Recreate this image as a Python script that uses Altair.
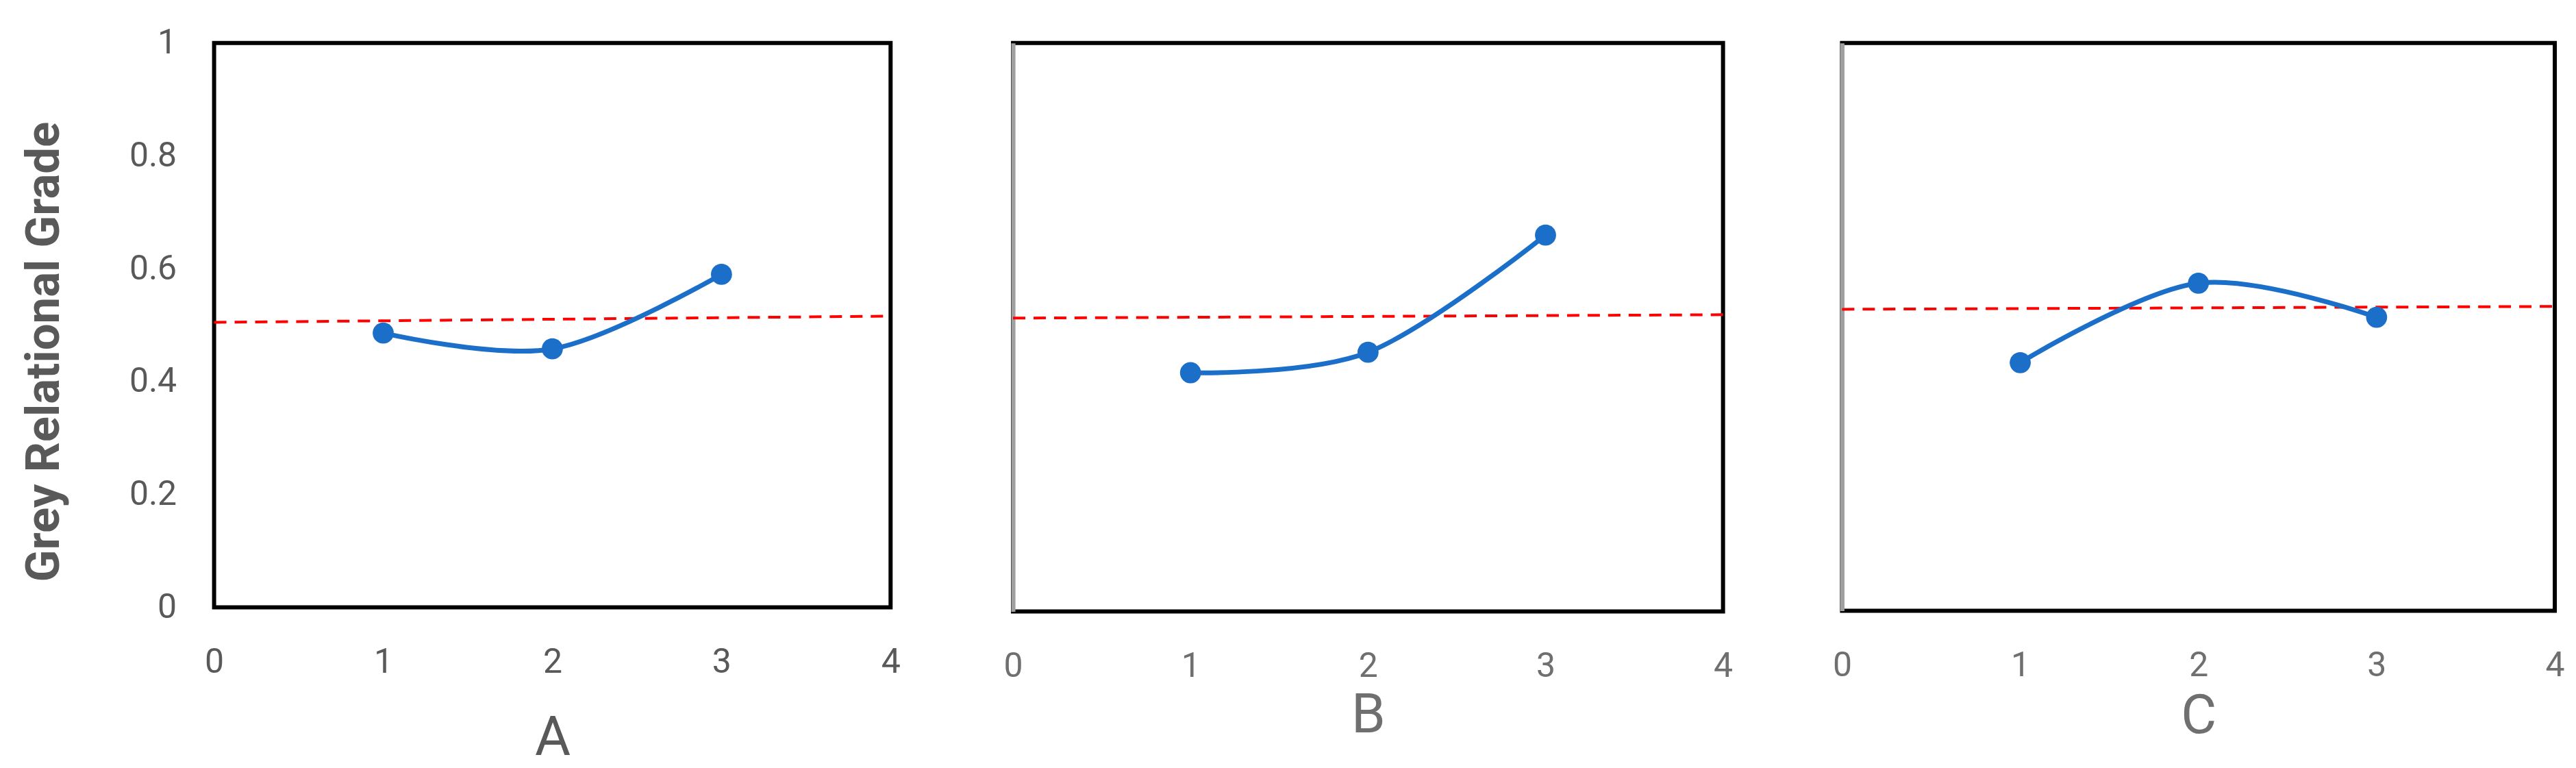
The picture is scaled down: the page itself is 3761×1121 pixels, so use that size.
import altair as alt
import pandas as pd

# ---- data ----
levels = [1, 2, 3]
grg_A = [0.486, 0.458, 0.590]
grg_B = [0.420, 0.456, 0.662]
grg_C = [0.437, 0.577, 0.517]
mean_ends = [0, 4]
mean_A = [0.505, 0.516]
mean_B = [0.516, 0.522]
mean_C = [0.531, 0.536]
x_ticks = [0, 1, 2, 3, 4]
y_ticks = [0, 0.2, 0.4, 0.6, 0.8, 1]
y_title = "Grey Relational Grade"
panel_names = ["A", "B", "C"]

BLUE = "#1b6fc8"
RED = "#ff0000"


def panel(name, vals, means, w, h, first, label_color, title_pad):
    pts = pd.DataFrame({"level": levels, "grg": vals})
    avg = pd.DataFrame({"level": mean_ends, "grg": means})
    xs = alt.Scale(domain=[0, 4], nice=False, zero=False)
    ys = alt.Scale(domain=[0, 1], nice=False)
    xaxis = alt.Axis(values=x_ticks, format="d", title=name, grid=False, ticks=False,
                     tickSize=0, domain=False, labelFont="Roboto", labelFontSize=50,
                     labelColor=label_color, labelPadding=55, labelFlush=False,
                     labelOverlap=False, titleFont="Roboto", titleFontSize=80,
                     titleFontWeight="normal", titleColor=label_color,
                     titlePadding=title_pad)
    if first:
        yaxis = alt.Axis(values=y_ticks, format="~g", title=y_title, grid=False,
                         ticks=False, tickSize=0, domain=False, labelFont="Roboto",
                         labelFontSize=50, labelColor="#595959", labelPadding=55,
                         labelFlush=False, labelOverlap=False, titleFont="Roboto",
                         titleFontSize=69, titleFontWeight="bold", titleColor="#595959",
                         titleAngle=270, titleAlign="center", titleBaseline="alphabetic",
                         titleX=-227, titleY=451)
        y = alt.Y("grg:Q", scale=ys, axis=yaxis)
    else:
        yaxis = alt.Axis(values=y_ticks, labels=False, grid=False, ticks=False,
                         tickSize=0, domain=True, domainColor="#a0a0a0", domainWidth=6)
        y = alt.Y("grg:Q", scale=ys, axis=yaxis, title=None)
    x = alt.X("level:Q", scale=xs, axis=xaxis)

    red = alt.Chart(avg).mark_line(color=RED, strokeWidth=4, strokeDash=[18, 12]).encode(x=x, y=y)
    line = alt.Chart(pts).mark_line(color=BLUE, strokeWidth=7, interpolate="cardinal").encode(
        x="level:Q", y="grg:Q")
    dots = alt.Chart(pts).mark_circle(color=BLUE, size=950, opacity=1).encode(
        x="level:Q", y="grg:Q")
    return alt.layer(red, line, dots).properties(width=w, height=h)


pA = panel(panel_names[0], grg_A, mean_A, 989, 825, True, "#595959", 47)
pB = panel(panel_names[1], grg_B, mean_B, 1038, 831, False, "#6f6f6f", 8)
pC = panel(panel_names[2], grg_C, mean_C, 1042, 830, False, "#6f6f6f", 10)

chart = alt.hconcat(pA, alt.hconcat(pB, pC, spacing=138), spacing=143).properties(
    padding={"left": 20, "top": 26, "right": 5, "bottom": 5}
).configure_view(stroke="black", strokeWidth=6)

chart.save("out.html", embed_options={"renderer": "svg", "actions": False})
